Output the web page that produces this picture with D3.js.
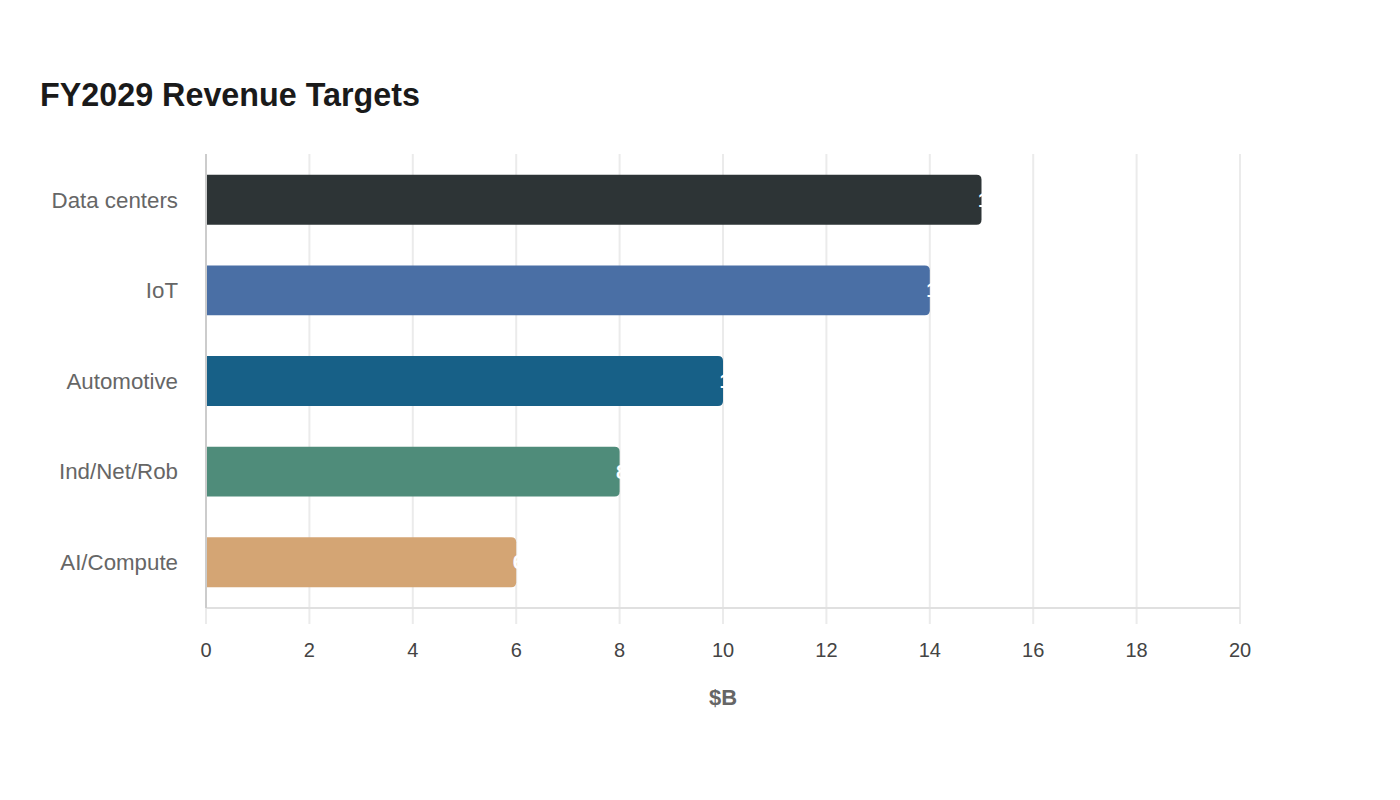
<!DOCTYPE html>
<html><head><meta charset="utf-8">
<script src="https://cdn.jsdelivr.net/npm/d3@7"></script>
<style>body{margin:0;background:#fff;font-family:"Liberation Sans",Arial,sans-serif;}</style>
</head><body>
<svg id="c" width="1400" height="800"></svg>
<script>
const categories = ["Data centers","IoT","Automotive","Ind/Net/Rob","AI/Compute"];
const values = [15,14,10,8,6];
const colors = ["#2d3436","#4a6fa5","#176087","#4f8c7a","#d4a574"];
const xTicks = [0,2,4,6,8,10,12,14,16,18,20];
const title = "FY2029 Revenue Targets";
const xLabel = "$B";

const svg = d3.select("#c");
const L=206, R=1240, T=154, B=608;
const x = d3.scaleLinear().domain([0,20]).range([L,R]);
const y = d3.scaleBand().domain(categories).range([T,B]).paddingInner(0.45).paddingOuter(0.23);

svg.append("text").attr("x",40).attr("y",106).text(title)
  .attr("font-size",32.3).attr("font-weight","bold").attr("fill","#1a1a1a");

// grid
svg.append("g").selectAll("line").data(xTicks).join("line")
  .attr("x1",d=>x(d)).attr("x2",d=>x(d)).attr("y1",T).attr("y2",B+16)
  .attr("stroke","#ebebeb").attr("stroke-width",2);

// bottom axis line
svg.append("line").attr("x1",L).attr("x2",R).attr("y1",B).attr("y2",B)
  .attr("stroke","#e0e0e0").attr("stroke-width",2);
// left axis line
svg.append("line").attr("x1",L).attr("x2",L).attr("y1",T).attr("y2",B)
  .attr("stroke","#cccccc").attr("stroke-width",2);

// tick labels
svg.append("g").selectAll("text").data(xTicks).join("text")
  .attr("x",d=>x(d)).attr("y",657).attr("text-anchor","middle")
  .attr("font-size",20).attr("fill","#444").text(d=>d);

// category labels
svg.append("g").selectAll("text").data(categories).join("text")
  .attr("x",178).attr("y",d=>y(d)+y.bandwidth()/2).attr("dy","0.35em")
  .attr("text-anchor","end").attr("font-size",22.3).attr("fill","#666").text(d=>d);

// bars
const data = categories.map((c,i)=>({c,v:values[i],col:colors[i]}));
svg.append("g").selectAll("path").data(data).join("path")
  .attr("d",d=>{
    const x0=x(0)+1, x1=x(d.v), y0=y(d.c), h=y.bandwidth(), r=5;
    return `M${x0},${y0}H${x1-r}Q${x1},${y0} ${x1},${y0+r}V${y0+h-r}Q${x1},${y0+h} ${x1-r},${y0+h}H${x0}Z`;
  })
  .attr("fill",d=>d.col);

// value labels (white, mostly off the bar)
svg.append("g").selectAll("text").data(data).join("text")
  .attr("x",d=>x(d.v)-3.5).attr("y",d=>y(d.c)+y.bandwidth()/2).attr("dy","0.35em")
  .attr("font-size",20).attr("font-weight","bold").attr("fill","#fff").text(d=>d.v);

svg.append("text").attr("x",(L+R)/2).attr("y",705).attr("text-anchor","middle")
  .attr("font-size",22).attr("font-weight","bold").attr("fill","#666").text(xLabel);
</script>
</body></html>
